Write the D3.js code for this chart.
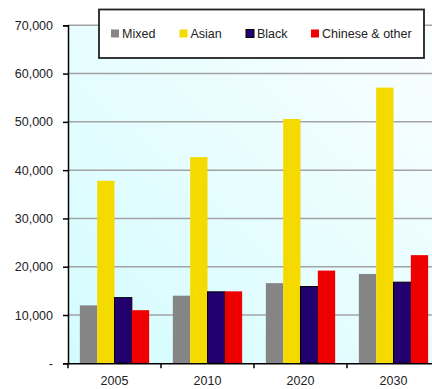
<!DOCTYPE html>
<html><head><meta charset="utf-8">
<script src="https://cdn.jsdelivr.net/npm/d3@7"></script>
<style>html,body{margin:0;padding:0;background:#fff;overflow:hidden}svg{display:block}</style>
</head><body>
<svg id="c" width="432" height="389"></svg>
<script>
const categories = ["2005", "2010", "2020", "2030"];
const seriesNames = ["Mixed", "Asian", "Black", "Chinese & other"];
const mixed = [12000, 14000, 16600, 18500];
const asian = [37800, 42700, 50600, 57100];
const black = [13600, 14800, 15900, 16800];
const chinese = [11000, 14900, 19200, 22400];
const yTicks = [0, 10000, 20000, 30000, 40000, 50000, 60000, 70000];
const colors = ["#858585", "#f5da00", "#220070", "#ee0000"];

(function(){
const values = [mixed, asian, black, chinese];
const svg = d3.select("#c");
const pLeft = 68, pRight = 440, pTop = 25.3, pBottom = 363.3;

const defs = svg.append("defs");
const g = defs.append("linearGradient").attr("id","bg").attr("x1","0").attr("y1","1").attr("x2","1").attr("y2","0");
g.append("stop").attr("offset","0").attr("stop-color","#d3fcff");
g.append("stop").attr("offset","1").attr("stop-color","#fbfeff");

const y = d3.scaleLinear().domain([0, 70000]).range([pBottom, pTop]);
const pi = 23.7/93;
const x = d3.scaleBand().domain(categories).range([pLeft, pRight]).paddingInner(pi).paddingOuter(pi/2);
const xs = d3.scaleBand().domain(seriesNames).range([0, x.bandwidth()]);

svg.append("rect").attr("x", pLeft).attr("y", pTop).attr("width", pRight-pLeft).attr("height", pBottom-pTop).attr("fill","url(#bg)");

svg.append("g").selectAll("line").data(yTicks.filter(d=>d>0)).join("line")
  .attr("x1", pLeft).attr("x2", pRight).attr("y1", d=>y(d)).attr("y2", d=>y(d))
  .attr("stroke","#a3a3a3").attr("stroke-width",1.5);

const rows = [];
categories.forEach((c,i)=>seriesNames.forEach((s,j)=>rows.push({c, s, j, v: values[j][i]})));
svg.append("g").selectAll("rect").data(rows).join("rect")
  .attr("x", d=>x(d.c)+xs(d.s)).attr("width", xs.bandwidth())
  .attr("y", d=>y(d.v)).attr("height", d=>y(0)-y(d.v))
  .attr("fill", d=>colors[d.j])
  .attr("stroke", d=>d.j===2 ? "#000" : "none").attr("stroke-width", 1);

const ya = svg.append("g").attr("transform", `translate(${pLeft},0)`)
  .call(d3.axisLeft(y).tickValues(yTicks).tickSize(5).tickPadding(10)
    .tickFormat(d => d === 0 ? "-" : d3.format(",")(d)));
ya.select(".domain").attr("stroke","#000").attr("stroke-width",1.5);
ya.selectAll(".tick line").attr("stroke","#000").attr("stroke-width",1.5);
ya.selectAll("text").attr("font-family","Liberation Sans, Arial, sans-serif").attr("font-size","12.5px").attr("fill","#222");

const xa = svg.append("g").attr("transform", `translate(0,${pBottom})`)
  .call(d3.axisBottom(x).tickSize(0).tickPadding(13));
xa.select(".domain").attr("stroke","#000").attr("stroke-width",1.5);
xa.selectAll("text").attr("font-family","Liberation Sans, Arial, sans-serif").attr("font-size","12.5px").attr("fill","#222");
const half = (x.step()-x.bandwidth())/2;
const bounds = categories.map(c=>x(c)-half).concat([x(categories[3])+x.bandwidth()+half]);
svg.append("g").selectAll("line").data(bounds).join("line")
  .attr("x1", d=>d).attr("x2", d=>d).attr("y1", pBottom).attr("y2", pBottom+5)
  .attr("stroke","#000").attr("stroke-width",1.5);

const lg = svg.append("g");
lg.append("rect").attr("x",99).attr("y",9.5).attr("width",325).attr("height",48.5)
  .attr("fill","#fff").attr("stroke","#222").attr("stroke-width",1.8);
const lx = [111, 179.5, 246, 311];
seriesNames.forEach((s,j)=>{
  lg.append("rect").attr("x", lx[j]).attr("y", 29.5).attr("width", 8).attr("height", 8)
    .attr("fill", colors[j]).attr("stroke", j===2 ? "#000" : "none").attr("stroke-width",1);
  lg.append("text").attr("x", lx[j]+11).attr("y", 38).text(s)
    .attr("font-family","Liberation Sans, Arial, sans-serif").attr("font-size","12.5px").attr("fill","#222");
});
})();
</script>
</body></html>
